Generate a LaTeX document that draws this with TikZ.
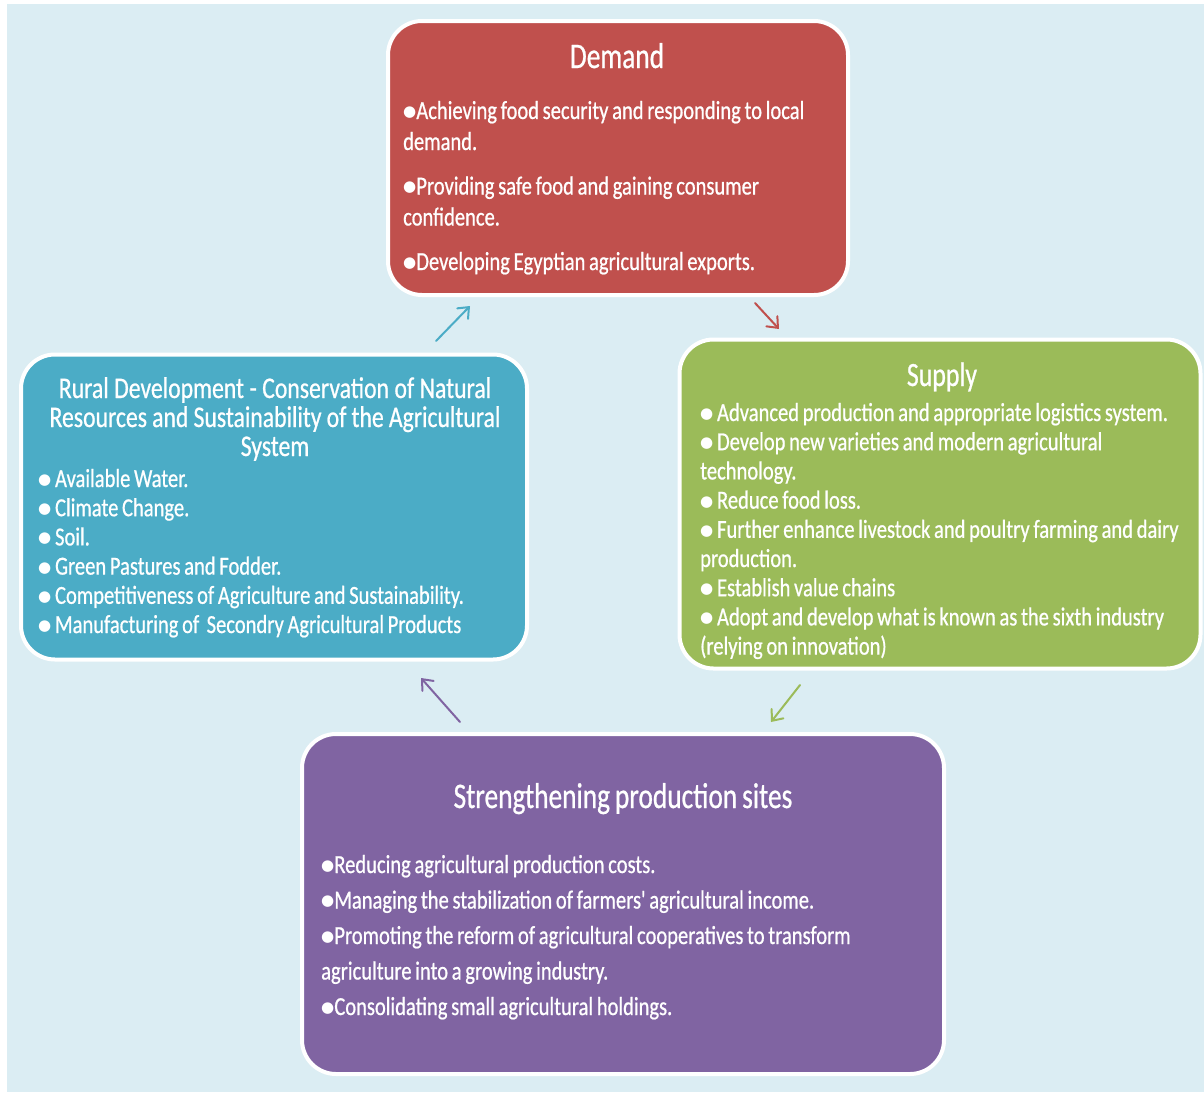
\documentclass[tikz,border=0pt]{standalone}
\usepackage{fontspec}
\usepackage{graphicx}
\usetikzlibrary{arrows.meta}
\setmainfont{Carlito}[FakeStretch=0.79, WordSpace=0.8, FakeBold=0.7]
\newfontfamily\headfont{Carlito}[FakeStretch=0.76, WordSpace=0.8, FakeBold=0.7]
\newfontfamily\aposfont{Carlito}[FakeStretch=0.79, FakeBold=0.7, Ligatures=TeXOff]
\newfontfamily\dotfont{DejaVu Sans}
\newcommand{\bul}{\raisebox{0.1em}{\dotfont\scalebox{0.58}{●}}}
\newcommand{\apos}{{\aposfont'}}
\newcommand{\fontspaces}{\spaceskip=0pt\xspaceskip=0pt}
\definecolor{sky}{HTML}{DBEDF3}
\definecolor{demandred}{HTML}{C0504D}
\definecolor{ruralblue}{HTML}{4BACC6}
\definecolor{supplygreen}{HTML}{9BBB59}
\definecolor{sitespurple}{HTML}{8064A2}

\begin{document}
\begin{tikzpicture}[x=1pt,y=-1pt,
        box/.style={draw=white, line width=4pt, rounded corners=34pt, inner sep=0pt},
        head/.style={text=white, inner sep=0pt, anchor=base},
        body/.style={text=white, inner sep=0pt, anchor=base west, align=left,
                     font=\fontsize{26}{29.2}\selectfont},
        flow/.style={line width=2pt, line cap=round,
                     -{Straight Barb[length=9pt, width=15pt, line cap=round]}}]
        \useasboundingbox (0,0) rectangle (1204,1095);
        \fill [sky] (7,4) rectangle (1204,1092);

        \node [box, fill=demandred,   minimum width=460pt, minimum height=274pt] (demand) at (618,158) {};
        \node [box, fill=ruralblue,   minimum width=506pt, minimum height=305pt] (rural)  at (274,507) {};
        \node [box, fill=supplygreen, minimum width=521pt, minimum height=329pt] (supply) at (940,504) {};
        \node [box, fill=sitespurple, minimum width=642pt, minimum height=340pt] (sites)  at (623,904) {};

        \node [head, font=\headfont\fontsize{36}{36}\selectfont] (demand-t) at (617,68) {Demand};
        \node [body, text width=440pt, font=\fontsize{26}{31}\selectfont] (demand-b) at (403,119)
              {\fontspaces
               \bul Achieving food security and responding to local\\
               demand.\\[13.5pt]
               \bul Providing safe food and gaining consumer\\
               confidence.\\[13.5pt]
               \bul Developing Egyptian agricultural exports.};

        \node [head, text width=500pt, align=center, font=\fontsize{30}{29}\selectfont] (rural-t) at (275,398)
              {\fontspaces
               Rural Development - Conservation of Natural\\
               Resources and Sustainability of the Agricultural\\
               System};
        \node [body, text width=480pt] (rural-b) at (38,487)
              {\fontspaces
               \bul\ Available Water.\\
               \bul\ Climate Change.\\
               \bul\ Soil.\\
               \bul\ Green Pastures and Fodder.\\
               \bul\ Competitiveness of Agriculture and Sustainability.\\
               \bul\ Manufacturing of\ \ Secondry Agricultural Products};

        \node [head, font=\headfont\fontsize{34}{34}\selectfont] (supply-t) at (942,386) {Supply};
        \node [body, text width=500pt] (supply-b) at (700,421)
              {\fontspaces
               \bul\ Advanced production and appropriate logistics system.\\
               \bul\ Develop new varieties and modern agricultural\\
               technology.\\
               \bul\ Reduce food loss.\\
               \bul\ Further enhance livestock and poultry farming and dairy\\
               production.\\
               \bul\ Establish value chains\\
               \bul\ Adopt and develop what is known as the sixth industry\\
               (relying on innovation)};

        \node [head, font=\headfont\fontsize{36}{36}\selectfont] (sites-t) at (623,808) {Strengthening production sites};
        \node [body, text width=620pt, font=\fontsize{26}{35.5}\selectfont] (sites-b) at (321,873)
              {\fontspaces
               \bul Reducing agricultural production costs.\\
               \bul Managing the stabilization of farmers\apos\ agricultural income.\\
               \bul Promoting the reform of agricultural cooperatives to transform\\
               agriculture into a growing industry.\\
               \bul Consolidating small agricultural holdings.};

        \coordinate (up-from)    at (436,341);
        \coordinate (up-to)      at (470,306);
        \coordinate (right-from) at (755,303);
        \coordinate (right-to)   at (779,329);
        \coordinate (down-from)  at (800,685);
        \coordinate (down-to)    at (771,722);
        \coordinate (left-from)  at (460,722);
        \coordinate (left-to)    at (421,678);
        \draw [flow, ruralblue]   (up-from) -- (up-to);
        \draw [flow, demandred]   (right-from) -- (right-to);
        \draw [flow, supplygreen] (down-from) -- (down-to);
        \draw [flow, sitespurple] (left-from) -- (left-to);
\end{tikzpicture}
\end{document}
